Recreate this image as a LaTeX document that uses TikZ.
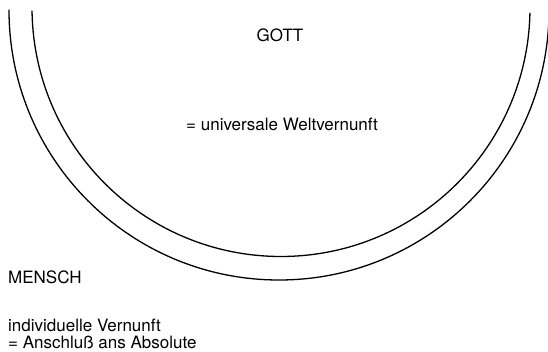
\documentclass[tikz,border=0pt]{standalone}
\usepackage{fontspec}
\setmainfont{TeX Gyre Heros}
\begin{document}
\begin{tikzpicture}[x=1pt,y=1pt,
  rim/.style={line width=1.3pt,line cap=round},
  label/.style={inner sep=0pt,font=\fontsize{17}{20}\selectfont}]
  \useasboundingbox (0,0) rectangle (548,351);
  \begin{scope}
    \clip (0,0) rectangle (548,351);
    % outer and inner rim of the bowl
    \draw[rim] (279,341) ++(180:270) arc[start angle=180,end angle=360,radius=270];
    \draw[rim] (281,343.5) ++(180.8:249) arc[start angle=180.8,end angle=358.7,radius=249];
  \end{scope}
  \node[label,anchor=base] (gott) at (280,309) {GOTT};
  \node[label,anchor=base east] (welt) at (378,220) {= universale Weltvernunft};
  \node[label,anchor=base west] (mensch) at (8,68) {MENSCH};
  \node[label,anchor=base west] (indiv) at (8,19.5) {individuelle Vernunft};
  \node[label,anchor=base west] (anschluss) at (8,3) {= Anschluß ans Absolute};
\end{tikzpicture}
\end{document}
